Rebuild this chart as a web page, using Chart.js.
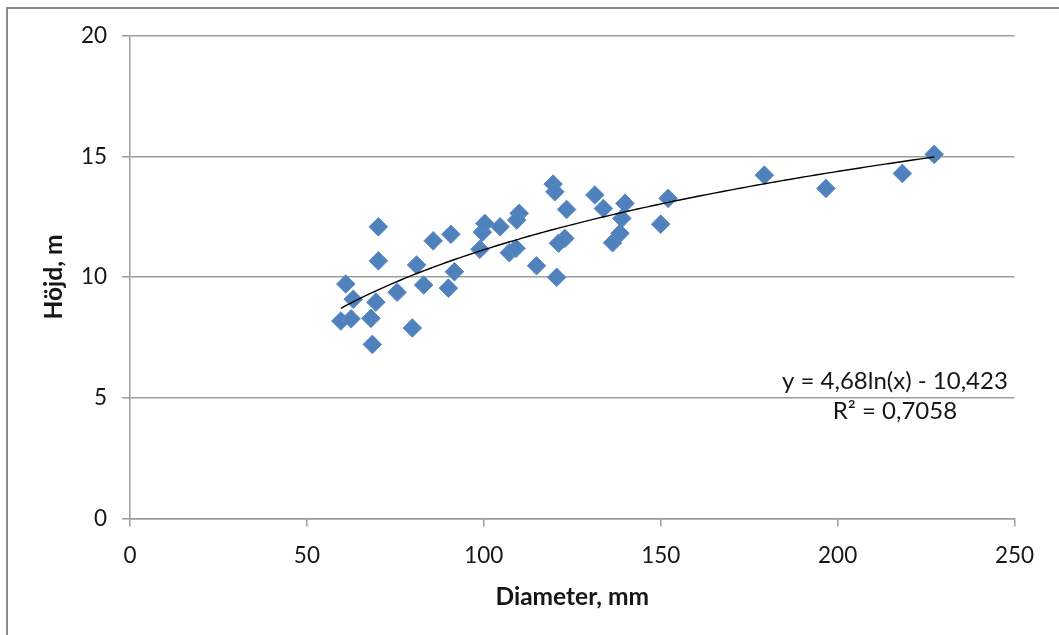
<!DOCTYPE html>
<html><head><meta charset="utf-8">
<script src="https://cdn.jsdelivr.net/npm/chart.js@4"></script>
<style>
html,body{margin:0;padding:0;background:#fff;overflow:hidden;}
#wrap{position:relative;width:1059px;height:635px;overflow:hidden;}
#frame{position:absolute;left:6px;top:7px;width:1200px;height:800px;border-top:2.5px solid #8c8c8c;border-left:2.5px solid #8c8c8c;}
canvas{position:absolute;left:0;top:0;}
</style></head><body>
<div id="wrap"><canvas id="c" width="1059" height="635"></canvas><div id="frame"></div></div>
<script>
// Data
const diameters = [59.6, 61.0, 62.5, 63.1, 68.1, 68.5, 69.5, 70.2, 70.2, 75.5, 79.8, 81.0, 83.0, 85.7, 90.0, 90.7, 91.7,
  98.9, 99.6, 100.3, 104.6, 107.2, 109.1, 110.0, 109.3, 114.9, 119.6, 120.1, 120.6, 121.1, 122.9, 123.4,
  131.4, 133.8, 136.4, 138.5, 139.0, 139.9, 150.0, 152.1, 179.3, 196.7, 218.3, 227.3];
const heights = [8.18, 9.71, 8.27, 9.08, 8.29, 7.21, 8.96, 12.08, 10.67, 9.37, 7.89, 10.50, 9.67, 11.50, 9.54, 11.77, 10.22,
  11.15, 11.86, 12.22, 12.08, 11.01, 11.19, 12.64, 12.36, 10.47, 13.85, 13.53, 9.99, 11.40, 11.60, 12.80,
  13.40, 12.84, 11.42, 11.81, 12.43, 13.05, 12.19, 13.26, 14.22, 13.67, 14.29, 15.08];
const xTicks = [0, 50, 100, 150, 200, 250];
const yTicks = [0, 5, 10, 15, 20];
const xTitle = 'Diameter, mm';
const yTitle = 'Höjd, m';
// Logarithmic trendline coefficients shown on the chart: y = a*ln(x) + b
const trendA = 4.68;
const trendB = -10.423;
const eqLines = ['y = 4,68ln(x) - 10,423', 'R² = 0,7058'];
const eqAnchorX = 216.2;
const eqAnchorY = [5.67, 4.43];

function build() {
  const pts = diameters.map((d, i) => ({x: d, y: heights[i]}));
  const xmin = Math.min(...diameters), xmax = Math.max(...diameters);
  const trend = [];
  const n = 120;
  for (let i = 0; i <= n; i++) {
    const x = xmin + (xmax - xmin) * i / n;
    trend.push({x: x, y: trendA * Math.log(x) + trendB});
  }
  const textColor = '#161616';
  const gridColor = '#9c9c9c';
  const eqPlugin = {
    id: 'eq',
    afterDatasetsDraw(chart) {
      const ctx = chart.ctx;
      const xs = chart.scales.x, ys = chart.scales.y;
      ctx.save();
      ctx.font = '24px Lato';
      ctx.fillStyle = textColor;
      ctx.textAlign = 'center';
      ctx.textBaseline = 'middle';
      eqLines.forEach((t, i) => {
        ctx.fillText(t, xs.getPixelForValue(eqAnchorX), ys.getPixelForValue(eqAnchorY[i]));
      });
      ctx.restore();
    }
  };
  new Chart(document.getElementById('c'), {
    type: 'scatter',
    data: {
      datasets: [
        {
          type: 'line', label: 'trend', data: trend, borderColor: '#000', borderWidth: 1.4,
          pointRadius: 0, fill: false, tension: 0
        },
        {
          label: 'data', data: pts, pointStyle: 'rectRot', pointRadius: 9.3, pointHoverRadius: 9.3,
          backgroundColor: '#4F81BD', borderColor: '#5b8bc4', borderWidth: 1
        }
      ]
    },
    plugins: [eqPlugin],
    options: {
      responsive: false, animation: false, devicePixelRatio: 1,
      layout: {padding: {top: 35.6, right: 44.5, left: 0, bottom: 0}},
      plugins: {legend: {display: false}, tooltip: {enabled: false}},
      scales: {
        x: {
          type: 'linear', min: 0, max: 250,
          afterBuildTicks: s => { s.ticks = xTicks.map(v => ({value: v})); },
          afterFit: s => { s.height = 116.5; },
          ticks: {font: {family: 'Lato', size: 22.5}, color: textColor, padding: 15.5, maxRotation: 0},
          grid: {drawOnChartArea: false, drawTicks: true, tickLength: 8, color: gridColor, lineWidth: 1.5},
          border: {color: gridColor, width: 1.5},
          title: {display: true, text: xTitle, color: textColor, font: {family: 'Lato', size: 24.5, weight: 'bold'}, padding: {top: 0, bottom: 23.3}}
        },
        y: {
          type: 'linear', min: 0, max: 20,
          afterBuildTicks: s => { s.ticks = yTicks.map(v => ({value: v})); },
          afterFit: s => { s.width = 130; },
          ticks: {font: {family: 'Lato', size: 22.5}, color: textColor, padding: 15},
          grid: {drawOnChartArea: true, drawTicks: true, tickLength: 8, color: gridColor, lineWidth: 1.5},
          border: {color: gridColor, width: 1.5},
          title: {display: true, text: yTitle, color: textColor, font: {family: 'Lato', size: 24.5, weight: 'bold'}, padding: {top: 39.3, bottom: 0}}
        }
      }
    }
  });
}
if (document.fonts && document.fonts.load) {
  Promise.all([document.fonts.load('24px Lato'), document.fonts.load('bold 24px Lato')]).then(build, build);
} else { build(); }
</script>
</body></html>
